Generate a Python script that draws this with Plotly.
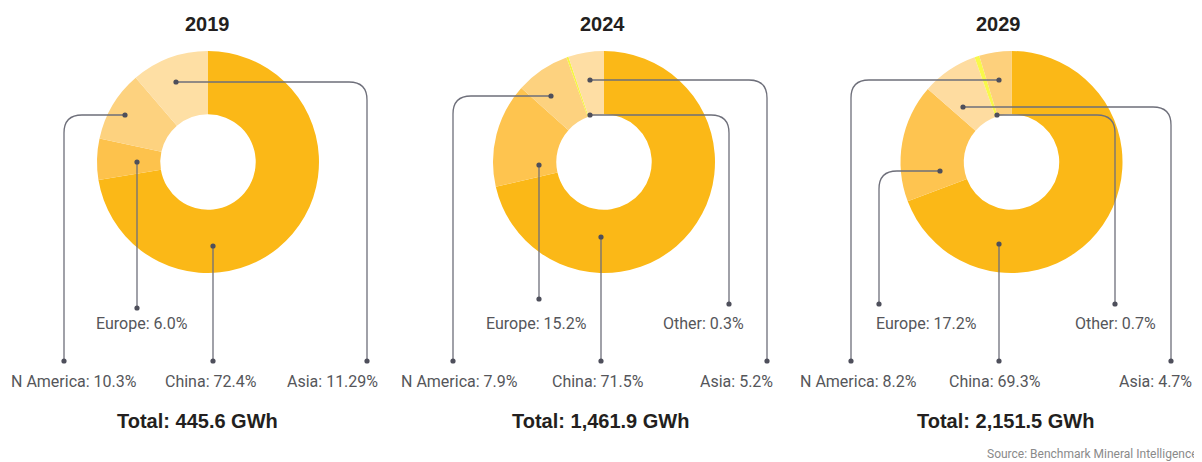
import plotly.graph_objects as go

# page has an 8px body margin; all positions below are window pixels
WIN_W, WIN_H = 1202, 462
OFF = 8
FW, FH = WIN_W - OFF, WIN_H - OFF

# ---------------- data ----------------
years = ["2019", "2024", "2029"]
totals = ["445.6", "1,461.9", "2,151.5"]

cats_2019 = ["China", "Europe", "N America", "Asia"]
vals_2019 = [72.4, 6.0, 10.3, 11.29]

cats_2024 = ["China", "Europe", "N America", "Other", "Asia"]
vals_2024 = [71.5, 15.2, 7.9, 0.3, 5.2]

cats_2029 = ["China", "Europe", "N America", "Other", "Asia"]
vals_2029 = [69.3, 17.2, 8.2, 0.7, 4.7]

source_text = "Source: Benchmark Mineral Intelligence"

# ---------------- styling / layout ----------------
colors_2019 = ["#FBB817", "#FDC24C", "#FDD27F", "#FEDFA4"]
colors_2024 = ["#FBB817", "#FEC44F", "#FDD27F", "#F5F542", "#FEDEA4"]
colors_2029 = ["#FBB817", "#FEC450", "#FEDCA0", "#F8F84A", "#FDD07C"]

centers = [(208, 162), (604, 162), (1011.5, 162)]
radius = 111
hole = 0.43

# leader layout per category: dot in donut, vertical line x, end y, label centre
leaders = {
    "2019": {
        "China": dict(dot=(213, 246), vx=213, ey=361, lab=(211, 381)),
        "Europe": dict(dot=(137, 162), vx=137, ey=308, lab=(142, 323)),
        "N America": dict(dot=(125, 115), vx=64, ey=361, lab=(74, 381)),
        "Asia": dict(dot=(176, 82), vx=367, ey=361, lab=(332, 381)),
    },
    "2024": {
        "China": dict(dot=(601, 237), vx=601, ey=361, lab=(598, 381)),
        "Europe": dict(dot=(539, 165), vx=539, ey=299, lab=(536, 323)),
        "N America": dict(dot=(551, 96), vx=453, ey=361, lab=(459, 381)),
        "Other": dict(dot=(590, 115), vx=729, ey=304, lab=(703, 323)),
        "Asia": dict(dot=(590, 80), vx=767, ey=361, lab=(736, 381)),
    },
    "2029": {
        "China": dict(dot=(999, 244), vx=999, ey=361, lab=(995, 381)),
        "Europe": dict(dot=(940, 171), vx=879, ey=304, lab=(926, 323)),
        "N America": dict(dot=(999, 80), vx=851, ey=361, lab=(858, 381)),
        "Other": dict(dot=(997, 115), vx=1115, ey=304, lab=(1115, 323)),
        "Asia": dict(dot=(963, 107), vx=1171, ey=361, lab=(1155, 381)),
    },
}
title_x = [207, 602, 998]
total_x = [197, 600, 1005]

LINE_C = "#6E6F7A"
DOT_C = "#4E4F5B"
LABEL_FONT = dict(family="Roboto, Liberation Sans, sans-serif", size=16, color="#55565A")
BOLD_FONT = dict(family="Liberation Sans, Arial, sans-serif", size=20, color="#231F20")

series = [
    (cats_2019, vals_2019, colors_2019),
    (cats_2024, vals_2024, colors_2024),
    (cats_2029, vals_2029, colors_2029),
]

fig = go.Figure()

# invisible scatter to establish pixel-based axes
fig.add_trace(go.Scatter(x=[OFF, WIN_W], y=[OFF, WIN_H], mode="markers",
                         marker=dict(opacity=0), hoverinfo="skip", showlegend=False))

for (cats, vals, cols), (cx, cy) in zip(series, centers):
    fig.add_trace(go.Pie(
        labels=cats, values=vals, sort=False, direction="clockwise", rotation=0,
        hole=hole, textinfo="none", showlegend=False,
        marker=dict(colors=cols, line=dict(width=0)),
        domain=dict(x=[(cx - radius - OFF) / FW, (cx + radius - OFF) / FW],
                    y=[1 - (cy + radius - OFF) / FH, 1 - (cy - radius - OFF) / FH]),
    ))

shapes = []
annotations = []
R = 18
DR = 2.6
for yi, (year, (cats, vals, cols)) in enumerate(zip(years, series)):
    for cat, val in zip(cats, vals):
        g = leaders[year][cat]
        dx, dy = g["dot"]
        vx, ey = g["vx"], g["ey"]
        if abs(vx - dx) < 1:
            path = f"M {dx},{dy} L {dx},{ey}"
        else:
            s = 1 if vx > dx else -1
            path = (f"M {dx},{dy} L {vx - s * R},{dy} "
                    f"Q {vx},{dy} {vx},{dy + R} L {vx},{ey}")
        shapes.append(dict(type="path", path=path, xref="x", yref="y",
                           line=dict(color=LINE_C, width=1.3), layer="above"))
        for (px, py) in [(dx, dy), (vx, ey)]:
            shapes.append(dict(type="circle", xref="x", yref="y",
                               x0=px - DR, x1=px + DR, y0=py - DR, y1=py + DR,
                               fillcolor=DOT_C, line=dict(width=0), layer="above"))
        lx, ly = g["lab"]
        annotations.append(dict(x=lx, y=ly, xref="x", yref="y", showarrow=False,
                                text=f"{cat}: {val}%", font=LABEL_FONT,
                                xanchor="center", yanchor="middle"))
    annotations.append(dict(x=title_x[yi], y=24, xref="x", yref="y", showarrow=False,
                            text=f"<b>{year}</b>", font=BOLD_FONT,
                            xanchor="center", yanchor="middle"))
    annotations.append(dict(x=total_x[yi], y=421, xref="x", yref="y", showarrow=False,
                            text=f"<b>Total: {totals[yi]} GWh</b>", font=BOLD_FONT,
                            xanchor="center", yanchor="middle"))

annotations.append(dict(x=1200, y=454, xref="x", yref="y", showarrow=False,
                        text=source_text,
                        font=dict(family="Liberation Sans Narrow, Roboto, sans-serif",
                                  size=12, color="#8A8A8A"),
                        xanchor="right", yanchor="middle"))

fig.update_layout(
    width=FW, height=FH,
    margin=dict(l=0, r=0, t=0, b=0),
    paper_bgcolor="white", plot_bgcolor="white",
    xaxis=dict(range=[OFF, WIN_W], visible=False, fixedrange=True),
    yaxis=dict(range=[WIN_H, OFF], visible=False, fixedrange=True),
    shapes=shapes, annotations=annotations,
)

fig.write_html("out.html")
